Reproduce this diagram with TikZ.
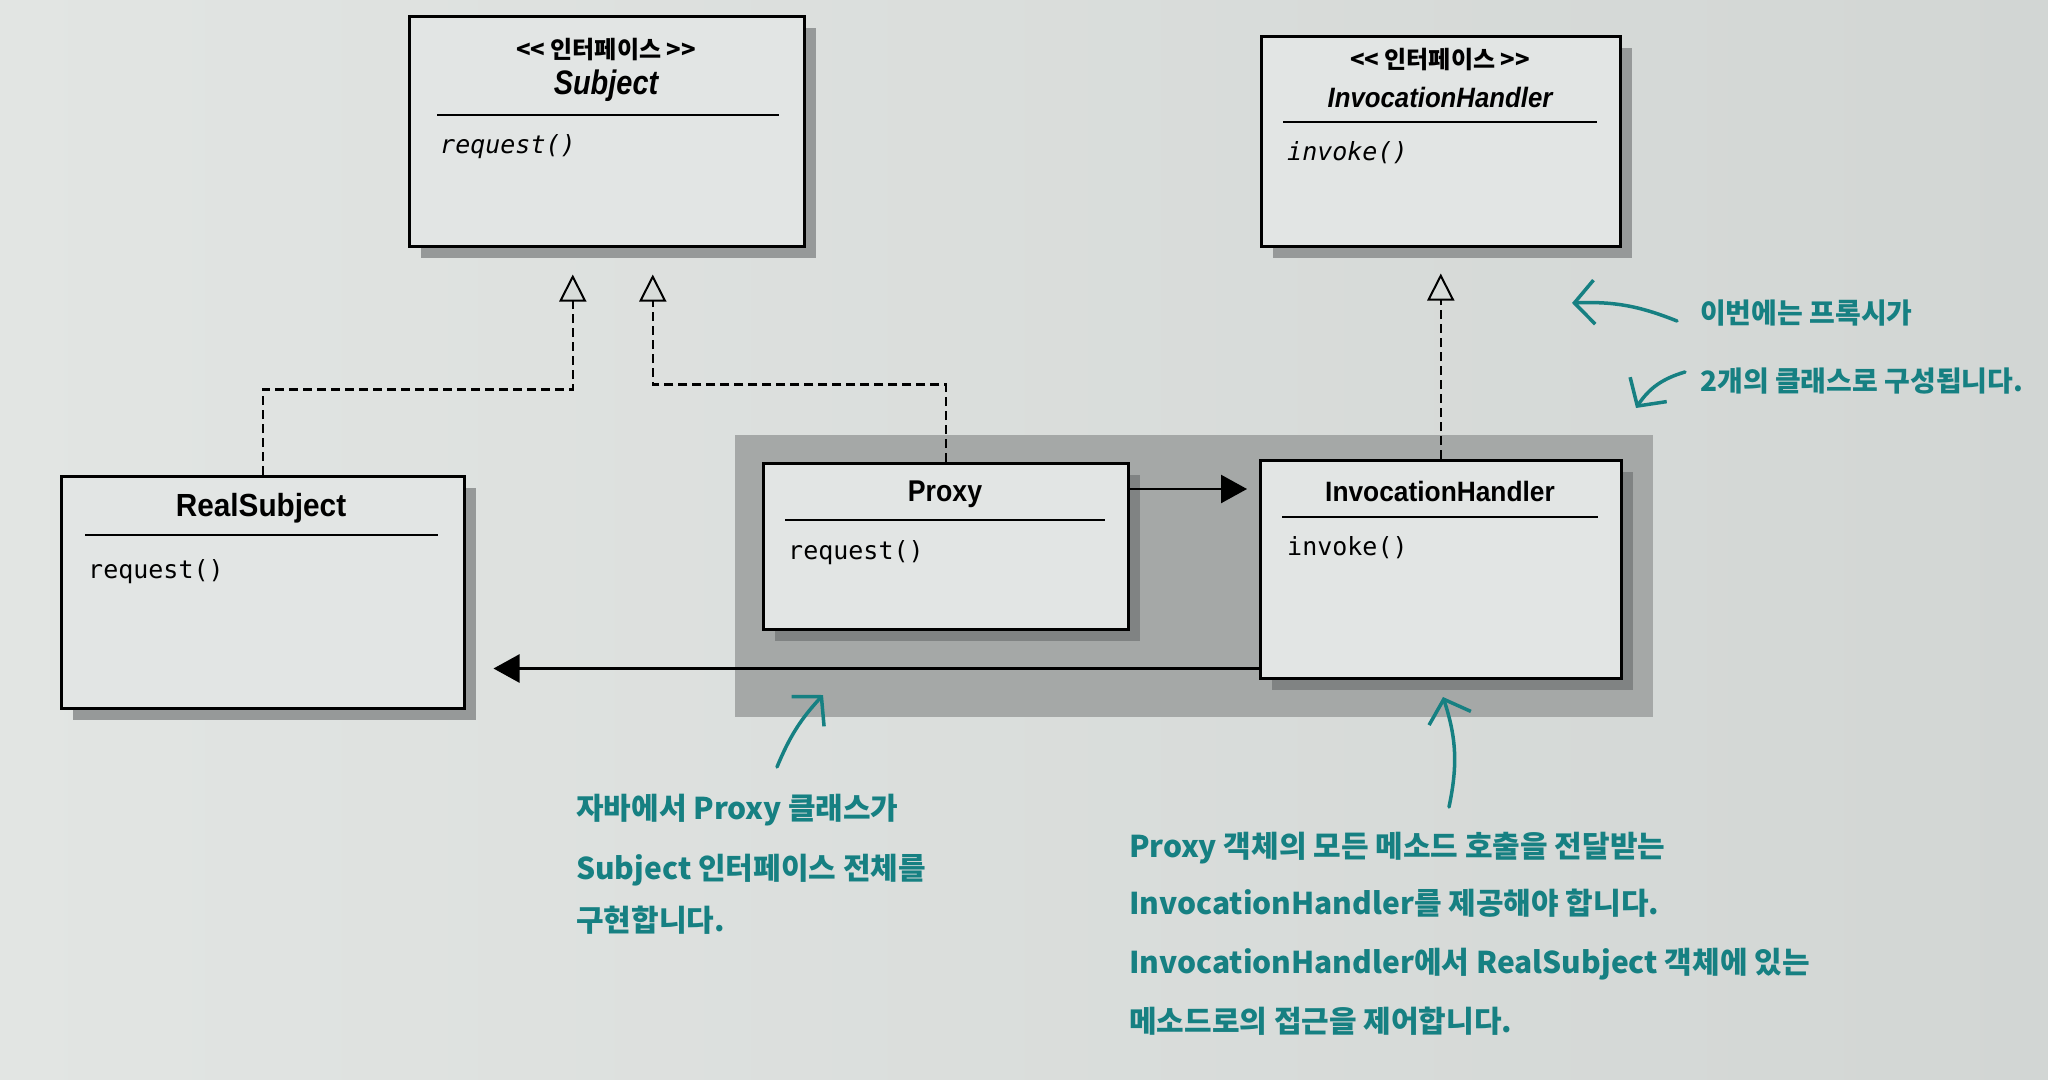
\documentclass[tikz,border=0pt]{standalone}
\usepackage{fontspec}
\setmainfont{Liberation Sans}
\newfontfamily\krfont{Noto Sans CJK KR}
\newfontfamily\codefont{DejaVu Sans Mono}
\usetikzlibrary{arrows.meta,shadows,calc}
\definecolor{paper}{RGB}{216,220,218}
\definecolor{paperl}{RGB}{226,229,227}
\definecolor{paperr}{RGB}{210,214,212}
\definecolor{boxfill}{RGB}{226,229,228}
\definecolor{shade}{RGB}{150,153,153}
\definecolor{shadedark}{RGB}{128,131,131}
\definecolor{region}{RGB}{165,168,167}
\definecolor{penteal}{RGB}{22,128,130}
\tikzset{
  umlbox/.style={draw=black, line width=2.5pt, fill=boxfill, inner sep=0pt, anchor=north west,
    drop shadow={shadow xshift=12pt, shadow yshift=-12pt, fill=shade, opacity=1}},
  umlboxin/.style={umlbox, drop shadow={shadow xshift=12pt, shadow yshift=-12pt, fill=shadedark, opacity=1}},
  divider/.style={draw=black, line width=1.5pt},
  stereo/.style={inner sep=0pt, font=\krfont\bfseries\fontsize{24}{26}\selectfont},
  clsname/.style={inner sep=0pt, font=\bfseries\fontsize{28}{30}\selectfont},
  method/.style={inner sep=0pt, anchor=west, font=\codefont\fontsize{25}{28}\selectfont},
  realize/.style={draw=black, line width=2.5pt, dash pattern=on 9pt off 5pt,
    -{Triangle[length=27pt,width=27pt,fill=paper,line width=2pt]}},
  assoc/.style={draw=black, line width=2.5pt, -{Triangle[length=26pt,width=28pt]}},
  pen/.style={draw=penteal, line width=3.5pt, line cap=round, line join=round,
    -{Straight Barb[length=20pt,width=44pt]}},
  note/.style={inner sep=0pt, anchor=base west, text=penteal,
    font=\krfont\bfseries\fontsize{30}{36}\selectfont},
  notesmall/.style={note, font=\krfont\bfseries\fontsize{28}{32}\selectfont}
}
\begin{document}
\begin{tikzpicture}[x=1pt,y=-1pt]
\shade[left color=paperl, right color=paperr] (0,0) rectangle (2048,1079);
\useasboundingbox (0,0) rectangle (2048,1079);

% grey region around Proxy and InvocationHandler
\node[fill=region, inner sep=0pt, anchor=north west, minimum width=918pt, minimum height=282pt] (grp) at (735,435) {};

% boxes
\node[umlbox, minimum width=395pt, minimum height=230pt] (subject) at (408,15) {};
\node[umlbox, minimum width=359pt, minimum height=210pt] (ihi) at (1260,35) {};
\node[umlbox, minimum width=403pt, minimum height=232pt] (realsubject) at (60,475) {};
\node[umlboxin, minimum width=365pt, minimum height=166pt] (proxy) at (762,462) {};
\node[umlboxin, minimum width=361pt, minimum height=218pt] (ihc) at (1259,459) {};

% Subject
\node[stereo] (subjectst) at (606,50) {<{}< 인터페이스 >{}>};
\node[clsname, font=\bfseries\itshape\fontsize{34}{36}\selectfont] (subjectnm) at (606,86) {\scalebox{0.85}[1]{Subject}};
\draw[divider] (437,115) -- (779,115);
\node[method, font=\codefont\itshape\fontsize{25}{28}\selectfont] (subjectm) at (440,147) {request()};

% InvocationHandler interface
\node[stereo] (ihist) at (1440,60) {<{}< 인터페이스 >{}>};
\node[clsname, font=\bfseries\itshape\fontsize{28}{30}\selectfont] (ihinm) at (1440,97) {\scalebox{0.92}[1]{InvocationHandler}};
\draw[divider] (1283,122) -- (1597,122);
\node[method, font=\codefont\itshape\fontsize{25}{28}\selectfont] (ihim) at (1287,153) {invoke()};

% RealSubject
\node[clsname, font=\bfseries\fontsize{32}{34}\selectfont] (realsubjectnm) at (261,508) {\scalebox{0.93}[1]{RealSubject}};
\draw[divider] (85,535) -- (438,535);
\node[method] (realsubjectm) at (88,572) {request()};

% Proxy
\node[clsname, font=\bfseries\fontsize{30}{32}\selectfont] (proxynm) at (945,494) {\scalebox{0.89}[1]{Proxy}};
\draw[divider] (785,520) -- (1105,520);
\node[method] (proxym) at (788,553) {request()};

% InvocationHandler class
\node[clsname] (ihcnm) at (1440,491) {\scalebox{0.94}[1]{InvocationHandler}};
\draw[divider] (1282,517) -- (1598,517);
\node[method] (ihcm) at (1287,548) {invoke()};

% realization (dashed) connectors
\coordinate (stipl) at ([xshift=-34pt,yshift=-27pt]subject.south);
\coordinate (stipr) at ([xshift=46pt,yshift=-27pt]subject.south);
\coordinate (itip) at ([yshift=-26pt]ihi.south);
\draw[realize] (realsubject.north) |- ($(stipl)+(0,115)$) -- (stipl);
\draw[realize] (proxy.north) |- ($(stipr)+(0,110)$) -- (stipr);
\draw[realize] (ihc.north) -- (itip);

% associations
\coordinate (pa) at ([yshift=-27pt]proxy.north east);
\draw[assoc, shorten >=12pt] (pa) -- (pa -| ihc.west);
\coordinate (ha) at ([yshift=11pt]ihc.south west);
\draw[assoc, shorten >=28pt] (ha) -- (ha -| realsubject.east);

% handwritten notes
\node[notesmall] (noteC1) at (1700,323) {이번에는 프록시가};
\node[notesmall] (noteC2) at (1700,391) {2개의 클래스로 구성됩니다.};

\node[note] (noteA1) at (576,819) {자바에서 Proxy 클래스가};
\node[note] (noteA2) at (576,879) {Subject 인터페이스 전체를};
\node[note] (noteA3) at (576,931) {구현합니다.};

\node[note] (noteB1) at (1129,857) {Proxy 객체의 모든 메소드 호출을 전달받는};
\node[note] (noteB2) at (1129,914) {InvocationHandler를 제공해야 합니다.};
\node[note] (noteB3) at (1129,973) {InvocationHandler에서 RealSubject 객체에 있는};
\node[note] (noteB4) at (1129,1032) {메소드로의 접근을 제어합니다.};

% pen arrows
\coordinate (atail) at (777,767);
\coordinate (atip) at (823,695);
\draw[pen] (atail) to[bend left=10] (atip);
\coordinate (btail) at (1449,807);
\coordinate (btip) at (1443,697);
\draw[pen] (btail) to[bend right=15] (btip);
\coordinate (ctail) at (1677,321);
\coordinate (ctip) at (1572,303);
\draw[pen] (ctail) to[bend right=12] (ctip);
\coordinate (dtail) at (1685,372);
\coordinate (dtip) at (1636,408);
\draw[pen] (dtail) to[bend right=20] (dtip);
\end{tikzpicture}
\end{document}
